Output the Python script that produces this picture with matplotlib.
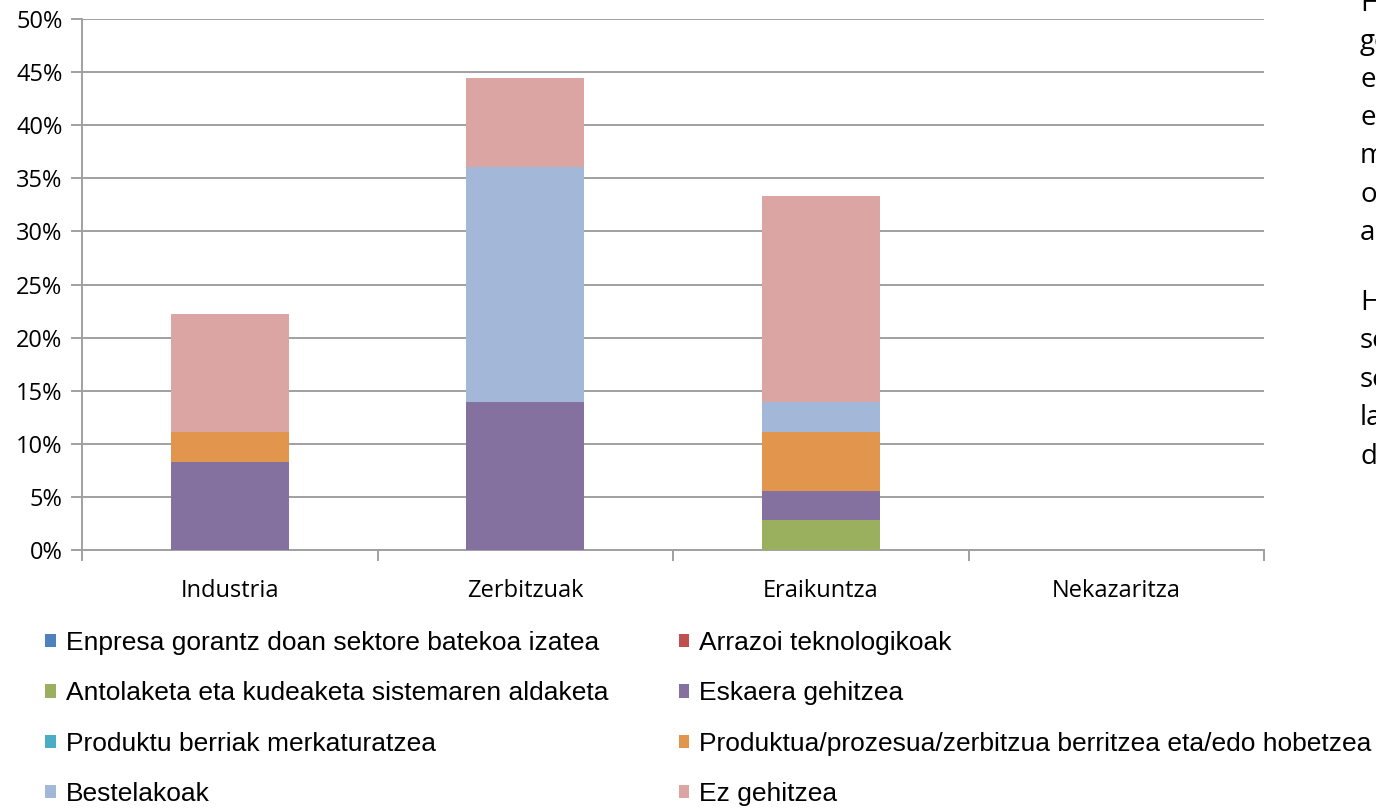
import matplotlib
matplotlib.use('Agg')
import matplotlib.pyplot as plt
import numpy as np

# categories and series (values in %)
categories = ['Industria', 'Zerbitzuak', 'Eraikuntza', 'Nekazaritza']
enpresa = [0, 0, 0, 0]
arrazoi = [0, 0, 0, 0]
antolaketa = [0, 0, 2.78, 0]
eskaera = [8.33, 13.89, 2.78, 0]
produktu_berriak = [0, 0, 0, 0]
produktua = [2.78, 0, 5.56, 0]
bestelakoak = [0, 22.22, 2.78, 0]
ez_gehitzea = [11.11, 8.33, 19.44, 0]

series_names = ['Enpresa gorantz doan sektore batekoa izatea',
                'Arrazoi teknologikoak',
                'Antolaketa eta kudeaketa sistemaren aldaketa',
                'Eskaera gehitzea',
                'Produktu berriak merkaturatzea',
                'Produktua/prozesua/zerbitzua berritzea eta/edo hobetzea',
                'Bestelakoak',
                'Ez gehitzea']
series_values = [enpresa, arrazoi, antolaketa, eskaera, produktu_berriak,
                 produktua, bestelakoak, ez_gehitzea]
colors = ['#4F81BD', '#C0504D', '#9BB05E', '#8571A0', '#4BACC6',
          '#E2964D', '#A3B7D8', '#DBA5A4']

# text clipped at the right edge of the original
side_lines = ['H', 'ge', 'e', 'e', 'm', 'o', 'a', 'H', 'se', 'se', 'la', 'd']
side_y = [4, 42, 80, 118, 156, 195, 233, 303, 341, 380, 418, 457]

fig = plt.figure(figsize=(13.76, 8.08), dpi=100)
ax = fig.add_axes([82/1376, 1-550/808, (1264-82)/1376, (550-19)/808])

x = np.arange(len(categories))
bottom = np.zeros(len(categories))
handles = []
for name, vals, col in zip(series_names, series_values, colors):
    vals = np.array(vals, dtype=float) / 100
    b = ax.bar(x, vals, width=0.4, bottom=bottom, color=col, label=name, zorder=3)
    handles.append(b)
    bottom += vals

grid_col = '#A0A0A0'
ax.set_xlim(-0.5, len(categories) - 0.5)
ax.set_ylim(0, 0.5)
ax.set_yticks(np.arange(0, 0.501, 0.05))
ax.set_yticklabels([f'{int(round(v*100))}%' for v in np.arange(0, 0.501, 0.05)])
ax.yaxis.grid(True, color=grid_col, linewidth=1.4, zorder=0)
ax.set_axisbelow(True)

ax.set_xticks(x)
ax.set_xticklabels(categories)
ax.set_xticks(np.arange(-0.5, len(categories)), minor=True)
ax.tick_params(axis='x', which='major', length=0, pad=21)
ax.tick_params(axis='x', which='minor', length=8, width=1.4, color=grid_col)
ax.tick_params(axis='y', length=8, width=1.4, color=grid_col, pad=6)

for lab in ax.get_xticklabels() + ax.get_yticklabels():
    lab.set_fontfamily('Open Sans')
    lab.set_fontsize(17)
    lab.set_color('#000000')

for s in ['top', 'right']:
    ax.spines[s].set_visible(False)
for s in ['left', 'bottom']:
    ax.spines[s].set_color(grid_col)
    ax.spines[s].set_linewidth(1.4)

# legend: row-wise order like the original -> reorder for column filling
order = [0, 2, 4, 6, 1, 3, 5, 7]
leg = fig.legend([handles[i] for i in order], [series_names[i] for i in order],
                 loc='upper left', bbox_to_anchor=(45/1376, 1-631/808), ncol=2,
                 frameon=False, prop={'family': 'Liberation Sans', 'size': 19},
                 handlelength=0.4, handleheight=0.4, handletextpad=0.38,
                 labelspacing=1.0, columnspacing=2.67, borderpad=0, borderaxespad=0)

for txt, yy in zip(side_lines, side_y):
    fig.text(1360/1376, 1-yy/808, txt, fontfamily='Open Sans', fontsize=20,
             va='center', ha='left', color='#000000')

fig.savefig('out.png', dpi=100)
